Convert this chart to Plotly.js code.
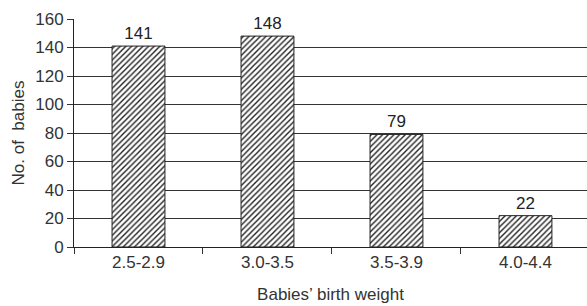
<!DOCTYPE html>
<html><head><meta charset="utf-8">
<script src="https://cdn.plot.ly/plotly-3.0.1.min.js"></script>
<style>html,body{margin:0;padding:0;background:#fff}#c{width:587px;height:306px}</style>
</head><body><div id="c"></div>
<script>
const categories = ["2.5-2.9", "3.0-3.5", "3.5-3.9", "4.0-4.4"];
const babies = [141, 148, 79, 22];
const yTicks = [0, 20, 40, 60, 80, 100, 120, 140, 160];

const trace = {
  type: "bar",
  x: categories,
  y: babies,
  text: babies.map(String),
  textposition: "outside",
  cliponaxis: false,
  textfont: {family: "Liberation Sans, Arial, sans-serif", size: 17, color: "#222"},
  width: 0.41,
  marker: {
    color: "#fff",
    line: {color: "#222", width: 1},
    pattern: {shape: "/", fgcolor: "#222", bgcolor: "#fff", size: 4, solidity: 0.35}
  },
  hoverinfo: "none"
};

const layout = {
  width: 587, height: 306,
  margin: {l: 74, r: 0, t: 19, b: 59},
  paper_bgcolor: "#fff", plot_bgcolor: "#fff",
  showlegend: false,
  font: {family: "Liberation Sans, Arial, sans-serif", size: 17, color: "#333"},
  xaxis: {
    type: "category",
    range: [-0.5, 3.477],
    tickson: "boundaries",
    ticks: "outside", ticklen: 6, tickcolor: "#333", tickwidth: 1,
    showline: true, linecolor: "#222", linewidth: 1,
    showgrid: false, zeroline: false,
    tickfont: {size: 17, color: "#333"},
    title: {text: "Babies\u2019 birth weight", font: {size: 17, color: "#333"}, standoff: 16}
  },
  yaxis: {
    range: [0, 160],
    tickvals: yTicks,
    ticks: "outside", ticklen: 6, tickcolor: "#333",
    showline: true, linecolor: "#222", linewidth: 1,
    showgrid: true, gridcolor: "#333", gridwidth: 1,
    zeroline: false,
    tickfont: {size: 17, color: "#333"},
    title: {text: "No. of  babies", font: {size: 17, color: "#333"}, standoff: 6}
  }
};

Plotly.newPlot("c", [trace], layout, {staticPlot: true, displayModeBar: false});
</script></body></html>
